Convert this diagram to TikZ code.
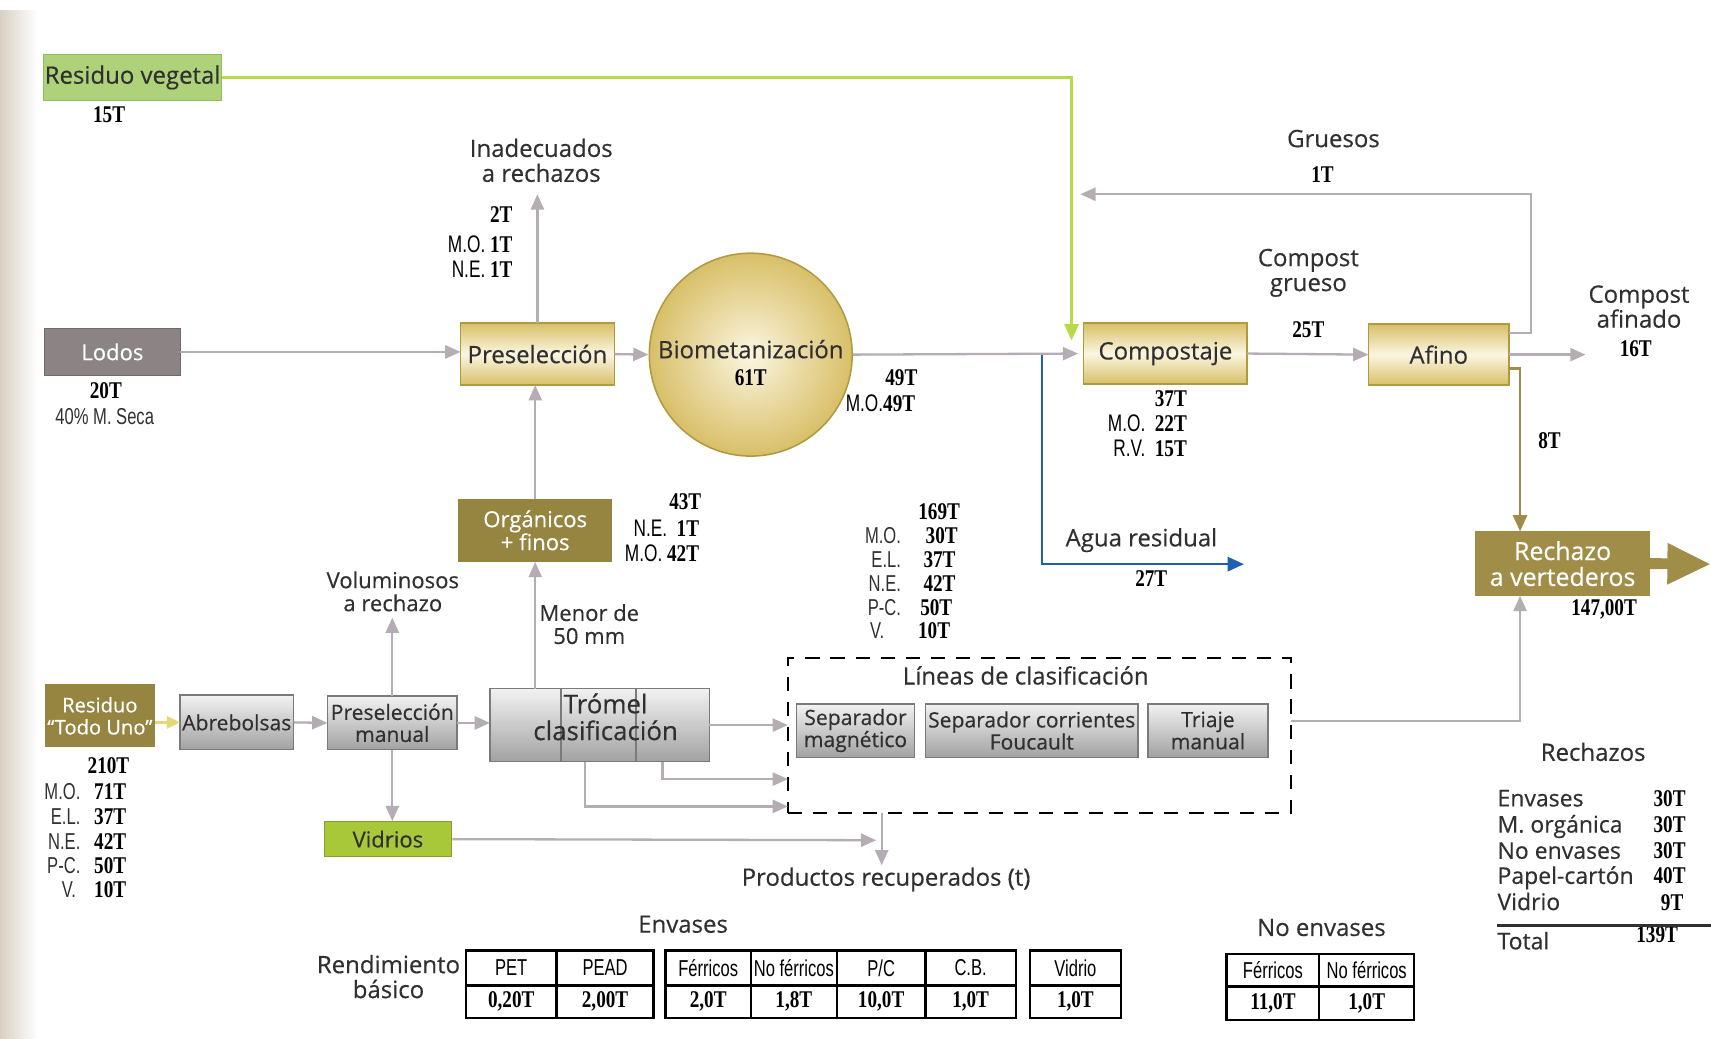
\documentclass[tikz,border=0pt]{standalone}
\usepackage{fontspec}
\setmainfont{Open Sans}[FakeBold=0.4]
\newfontfamily\numfont[FakeStretch=0.8]{Liberation Serif}
\newfontfamily\abbfont[FakeStretch=0.72]{Liberation Sans}
\usetikzlibrary{arrows.meta}

\definecolor{paper}{HTML}{D9D0C2}
\definecolor{textgrey}{HTML}{303030}
\definecolor{flowgrey}{HTML}{B4AEB4}
\definecolor{goldedge}{HTML}{B09A40}
\definecolor{gold}{HTML}{D8BF68}
\definecolor{cream}{HTML}{FBF6E0}
\definecolor{darkgold}{HTML}{968540}
\definecolor{rejectgold}{HTML}{A08E48}
\definecolor{silveredge}{HTML}{7A7A7A}
\definecolor{silvertop}{HTML}{F2F2F2}
\definecolor{silverbot}{HTML}{A2A2A2}
\definecolor{mudgrey}{HTML}{8C8484}
\definecolor{leafgreen}{HTML}{ADD27A}
\definecolor{leafedge}{HTML}{8DBF5A}
\definecolor{limeline}{HTML}{B8D94A}
\definecolor{glassgreen}{HTML}{A8C83A}
\definecolor{waterblue}{HTML}{1F5FB0}
\definecolor{bagyellow}{HTML}{E6D77A}

\tikzstyle{txt}=[text=textgrey, font=\fontsize{12.5}{13}\selectfont, align=center, inner sep=0pt]
\tikzstyle{tonnes}=[font=\numfont\bfseries\fontsize{12.5}{13}\selectfont, inner sep=0pt]
\tikzstyle{abbr}=[text=textgrey, font=\abbfont\fontsize{12}{13}\selectfont, inner sep=0pt]
\tikzstyle{goldbox}=[draw=goldedge, line width=0.8pt, top color=gold, bottom color=gold, middle color=cream, txt, outer sep=0pt]
\tikzstyle{silverbox}=[draw=silveredge, line width=0.8pt, top color=silvertop, bottom color=silverbot, txt, font=\fontsize{11}{11.5}\selectfont, outer sep=0pt]
\tikzstyle{darkbox}=[fill=darkgold, txt, text=white, outer sep=0pt]
\tikzstyle{flowarrow}=[draw=flowgrey, line width=1.2pt, -{Triangle[length=0.28cm,width=0.24cm]}]
\tikzstyle{goldflow}=[draw=rejectgold, line width=1.4pt, -{Triangle[length=0.3cm,width=0.26cm]}]
\tikzstyle{cell}=[draw=black, line width=1.2pt, inner sep=0pt, outer sep=0pt]
\tikzstyle{reject}=[txt, font=\fontsize{12}{13}\selectfont, anchor=base west]

\begin{document}
\begin{tikzpicture}[x=0.02cm, y=-0.02cm]
\useasboundingbox (0,0) rectangle (1568,952);
% Page edge
    \shade[left color=paper, right color=white] (0,10) rectangle (34,952);
% Inputs
    \node[txt, draw=leafedge, line width=0.8pt, fill=leafgreen, minimum width=3.26cm, minimum height=0.84cm] (veg) at (121.5,71) {Residuo vegetal};
    \node[txt, draw=mudgrey!80!black, fill=mudgrey, text=white, font=\fontsize{11.5}{12}\selectfont, minimum width=2.48cm, minimum height=0.86cm] (lodos) at (103,322.5) {Lodos};
    \node[darkbox, minimum width=2.02cm, minimum height=1.16cm, font=\fontsize{10.5}{11.5}\selectfont] (todouno) at (91.5,656) {Residuo\\“Todo Uno”};
% Organic line
    \node[goldbox, minimum width=2.82cm, minimum height=1.14cm] (presel) at (492.5,324.5) {Preselección};
    \node[circle, draw=goldedge, line width=0.8pt, inner color=cream, outer color=gold, minimum size=3.72cm] (bio) at (688,325) {};
    \node[txt] (biolab) at (688,320) {Biometanización};
    \node[goldbox, minimum width=3cm, minimum height=1.12cm] (compost) at (1068,324) {Compostaje};
    \node[goldbox, minimum width=2.58cm, minimum height=1.12cm] (afino) at (1318.5,325) {Afino};
    \node[darkbox, fill=rejectgold, minimum width=3.2cm, minimum height=1.18cm, font=\fontsize{13}{13.5}\selectfont] (rechazo) at (1432,516.5) {Rechazo\\a vertederos};
    \node[darkbox, minimum width=2.82cm, minimum height=1.16cm, font=\fontsize{11.5}{12}\selectfont] (organicos) at (490.5,486) {Orgánicos\\+ finos};
% Sorting line
    \node[silverbox, minimum width=2.08cm, minimum height=1cm] (abre) at (217,662) {Abrebolsas};
    \node[silverbox, minimum width=2.38cm, minimum height=0.98cm] (manual) at (359.5,662.5) {Preselección\\manual};
    \node[txt, draw=glassgreen!80!black, line width=0.6pt, fill=glassgreen, font=\fontsize{11.5}{12}\selectfont, minimum width=2.34cm, minimum height=0.64cm] (vidrios) at (355.5,769) {Vidrios};
    \node[silverbox, minimum width=4.02cm, minimum height=1.34cm] (tromel) at (549.5,664.5) {};
    \draw[silveredge, line width=0.8pt] (tromel.north) ++(-0.71cm,0) -- ++(0,-1.34cm);
    \draw[silveredge, line width=0.8pt] (tromel.north) ++(0.67cm,0) -- ++(0,-1.34cm);
    \node[txt, font=\fontsize{13.5}{14}\selectfont] (tromellab) at (555,657) {Trómel\\clasificación};
    \node[draw=black, line width=1.2pt, dash pattern=on 0.26cm off 0.2cm, minimum width=9.22cm, minimum height=2.84cm, outer sep=0pt] (lineas) at (952.5,674) {};
    \node[txt] (lineaslab) at (940,619) {Líneas de clasificación};
    \node[silverbox, minimum width=2.16cm, minimum height=0.98cm] (sepmag) at (784,669.5) {Separador\\magnético};
    \node[silverbox, minimum width=3.9cm, minimum height=0.98cm] (foucault) at (945.5,669.5) {Separador corrientes\\Foucault};
    \node[silverbox, minimum width=2.2cm, minimum height=0.98cm] (triaje) at (1107,669.5) {Triaje\\manual};
% Free ends
    \coordinate (vegin) at (982,312);
    \coordinate (inad) at (492.5,178);
    \coordinate (grin) at (990,178);
    \coordinate (afin) at (1453,325);
    \coordinate (split) at (955,325);
    \coordinate (agua) at (1140,517);
    \coordinate (vert) at (1568,517);
    \coordinate (volum) at (359.5,566);
    \coordinate (vidin) at (803,770);
    \coordinate (prod) at (808,793);
    \coordinate (rline) at (1568,848);
% Flows
    \draw[draw=limeline, line width=1.4pt, -{Triangle[length=0.3cm,width=0.26cm]}] (veg.east) -| (vegin);
    \draw[flowarrow] (lodos.east) -- (lodos.east -| presel.west);
    \draw[flowarrow] (presel.north) -- (inad);
    \draw[flowarrow] (presel.east) -- (bio.west);
    \draw[draw=waterblue, line width=1.4pt, -{Triangle[length=0.3cm,width=0.26cm]}] (split) |- (agua);
    \draw[flowarrow, shorten >=0.1cm] (bio.east) -- (compost.west);
    \draw[flowarrow] (compost.east) -- (afino.west);
    \draw[flowarrow] ([yshift=0.4cm]afino.east) -- ++(0.4cm,0) |- (grin);
    \draw[flowarrow] (afino.east) -- (afin);
    \draw[goldflow] ([yshift=-0.26cm]afino.east) -| ([xshift=-0.78cm]rechazo.north);
    \draw[draw=rejectgold, line width=0.2cm, -{Triangle[length=0.8cm,width=0.7cm]}] (rechazo.east) -- (vert);
    \draw[flowarrow] ([yshift=0.26cm]lineas.east) -| ([xshift=-0.78cm]rechazo.south);
    \draw[draw=bagyellow, line width=1.4pt, -{Triangle[length=0.24cm,width=0.22cm]}] (todouno.east |- abre.west) -- (abre.west);
    \draw[flowarrow] (abre.east) -- (manual.west);
    \draw[flowarrow] (manual.north) -- (volum);
    \draw[flowarrow] (manual.south) -- (manual.south |- vidrios.north);
    \draw[flowarrow] (manual.east) -- (manual.east -| tromel.west);
    \draw[flowarrow] (organicos.south |- tromel.north) -- (organicos.south);
    \draw[flowarrow] (organicos.north) -- (organicos.north |- presel.south);
    \draw[flowarrow] (tromel.east) -- (tromel.east -| lineas.west);
    \draw[flowarrow] ([xshift=1.15cm]tromel.south) |- ([yshift=-0.8cm]lineas.west);
    \draw[flowarrow] ([xshift=-0.27cm]tromel.south) |- ([yshift=-1.3cm]lineas.west);
    \draw[flowarrow] (vidrios.east) -- (vidin);
    \draw[flowarrow] (lineas.south -| prod) -- (prod);
% Flow texts
    \node[txt] (inadlab) at (496,147) {Inadecuados\\a rechazos};
    \node[txt] (grueslab) at (1199,250) {Compost\\grueso};
    \node[txt] (gruesos) at (1222,127) {Gruesos};
    \node[txt] (afinlab) at (1502,281) {Compost\\afinado};
    \node[txt] (agualab) at (1046,495) {Agua residual};
    \node[txt, font=\fontsize{11.5}{12}\selectfont] (volumlab) at (360,542) {Voluminosos\\a rechazo};
    \node[txt, font=\fontsize{11.5}{12}\selectfont] (menorlab) at (540,572) {Menor de\\50 mm};
    \node[txt] (prodlab) at (812,806) {Productos recuperados (t)};
% Tonnes
    \node[tonnes] (t15) at (100,105) {15T};
    \node[tonnes] (t20) at (97,358) {20T};
    \node[abbr] (seca) at (96,382) {40\% M. Seca};
    \node[tonnes, anchor=east] (t2) at (470,197) {2T};
    \node[tonnes, anchor=east] (t2mo) at (470,224) {{\abbfont\mdseries M.O.}\ 1T};
    \node[tonnes, anchor=east] (t2ne) at (470,247) {{\abbfont\mdseries N.E.}\ 1T};
    \node[tonnes] (t61) at (688,346) {61T};
    \node[tonnes, anchor=east] (t49) at (841,346) {49T};
    \node[tonnes, anchor=east] (t49mo) at (839,370) {{\abbfont\mdseries M.O.}49T};
    \node[tonnes, anchor=east] (t37) at (1088,365) {37T};
    \node[tonnes, anchor=east] (t37mo) at (1088,388) {{\abbfont\mdseries M.O.}\ \ 22T};
    \node[tonnes, anchor=east] (t37rv) at (1088,411) {{\abbfont\mdseries R.V.}\ \ 15T};
    \node[tonnes] (t25) at (1199,302) {25T};
    \node[tonnes] (t1) at (1212,160) {1T};
    \node[tonnes] (t16) at (1499,320) {16T};
    \node[tonnes] (t8) at (1420,404) {8T};
    \node[tonnes] (t147) at (1470,558) {147,00T};
    \node[tonnes] (t27) at (1055,530) {27T};
    \node[tonnes, anchor=east] (t43) at (643,460) {43T};
    \node[tonnes, anchor=east] (t43ne) at (641,484) {{\abbfont\mdseries N.E.}\ \ 1T};
    \node[tonnes, anchor=east] (t43mo) at (641,507) {{\abbfont\mdseries M.O.}\ 42T};
    \node[tonnes, anchor=east] (t169) at (880,469) {169T};
    \node[abbr, anchor=east] (a169mo) at (826,491) {M.O.};
    \node[abbr, anchor=east] (a169el) at (826,513) {E.L.};
    \node[abbr, anchor=east] (a169ne) at (826,535) {N.E.};
    \node[abbr, anchor=east] (a169pc) at (826,557) {P-C.};
    \node[abbr, anchor=west] (a169v) at (797,578) {V.};
    \node[tonnes, anchor=east] (t169mo) at (878,491) {30T};
    \node[tonnes, anchor=east] (t169el) at (876,513) {37T};
    \node[tonnes, anchor=east] (t169ne) at (876,535) {42T};
    \node[tonnes, anchor=east] (t169pc) at (873,557) {50T};
    \node[tonnes, anchor=east] (t169v) at (871,578) {10T};
    \node[tonnes, anchor=west] (t210) at (80,702) {210T};
    \node[abbr, anchor=east] (a210mo) at (74,725) {M.O.};
    \node[abbr, anchor=east] (a210el) at (74,748) {E.L.};
    \node[abbr, anchor=east] (a210ne) at (74,771) {N.E.};
    \node[abbr, anchor=east] (a210pc) at (74,793) {P-C.};
    \node[abbr, anchor=east] (a210v) at (70,815) {V.};
    \node[tonnes, anchor=west] (t210mo) at (86,725) {71T};
    \node[tonnes, anchor=west] (t210el) at (86,748) {37T};
    \node[tonnes, anchor=west] (t210ne) at (86,771) {42T};
    \node[tonnes, anchor=west] (t210pc) at (86,793) {50T};
    \node[tonnes, anchor=west] (t210v) at (86,815) {10T};
% Recovered products
    \node[txt] (envlab) at (626,847) {Envases};
    \node[txt] (rendlab) at (356,895) {Rendimiento\\básico};
    \node[txt] (noenvlab) at (1211,850) {No envases};
    \node[cell, abbr, text=black, minimum width=1.66cm, minimum height=0.64cm] (pet) at (468.5,887) {PET};
    \node[cell, abbr, text=black, minimum width=1.78cm, minimum height=0.64cm] (pead) at (554.5,887) {PEAD};
    \node[cell, tonnes, minimum width=1.66cm, minimum height=0.6cm] (petv) at (468.5,918) {0,20T};
    \node[cell, tonnes, minimum width=1.78cm, minimum height=0.6cm] (peadv) at (554.5,918) {2,00T};
    \node[cell, abbr, text=black, minimum width=1.56cm, minimum height=0.64cm] (ferr) at (649,887) {Férricos};
    \node[cell, abbr, text=black, minimum width=1.58cm, minimum height=0.64cm] (noferr) at (727.5,887) {No férricos};
    \node[cell, abbr, text=black, minimum width=1.62cm, minimum height=0.64cm] (pc) at (807.5,887) {P/C};
    \node[cell, abbr, text=black, minimum width=1.66cm, minimum height=0.64cm] (cb) at (889.5,887) {C.B.};
    \node[cell, tonnes, minimum width=1.56cm, minimum height=0.6cm] (ferrv) at (649,918) {2,0T};
    \node[cell, tonnes, minimum width=1.58cm, minimum height=0.6cm] (noferrv) at (727.5,918) {1,8T};
    \node[cell, tonnes, minimum width=1.62cm, minimum height=0.6cm] (pcv) at (807.5,918) {10,0T};
    \node[cell, tonnes, minimum width=1.66cm, minimum height=0.6cm] (cbv) at (889.5,918) {1,0T};
    \node[cell, abbr, text=black, minimum width=1.66cm, minimum height=0.64cm] (vidrio) at (985.5,887) {Vidrio};
    \node[cell, tonnes, minimum width=1.66cm, minimum height=0.6cm] (vidriov) at (985.5,918) {1,0T};
    \node[cell, abbr, text=black, minimum width=1.7cm, minimum height=0.6cm] (nferr) at (1166.5,889) {Férricos};
    \node[cell, abbr, text=black, minimum width=1.74cm, minimum height=0.6cm] (nnoferr) at (1252.5,889) {No férricos};
    \node[cell, tonnes, minimum width=1.7cm, minimum height=0.62cm] (nferrv) at (1166.5,919.5) {11,0T};
    \node[cell, tonnes, minimum width=1.74cm, minimum height=0.62cm] (nnoferrv) at (1252.5,919.5) {1,0T};
% Rejects
    \node[txt] (rechlab) at (1460,689) {Rechazos};
    \node[reject] (renv) at (1372,739) {Envases};
    \node[reject] (rmo) at (1372,763) {M. orgánica};
    \node[reject] (rnoenv) at (1372,787) {No envases};
    \node[reject] (rpc) at (1372,810) {Papel-cartón};
    \node[reject] (rvid) at (1372,834) {Vidrio};
    \node[reject] (rtotal) at (1372,870) {Total};
    \node[tonnes, anchor=base east] (renvv) at (1545,739) {30T};
    \node[tonnes, anchor=base east] (rmov) at (1545,763) {30T};
    \node[tonnes, anchor=base east] (rnoenvv) at (1545,787) {30T};
    \node[tonnes, anchor=base east] (rpcv) at (1545,810) {40T};
    \node[tonnes, anchor=base east] (rvidv) at (1543,834) {9T};
    \node[tonnes, anchor=base east] (rtotalv) at (1538,864) {139T};
    \draw[textgrey, line width=1.6pt] (rtotal.west |- rline) -- (rline);
\end{tikzpicture}
\end{document}
